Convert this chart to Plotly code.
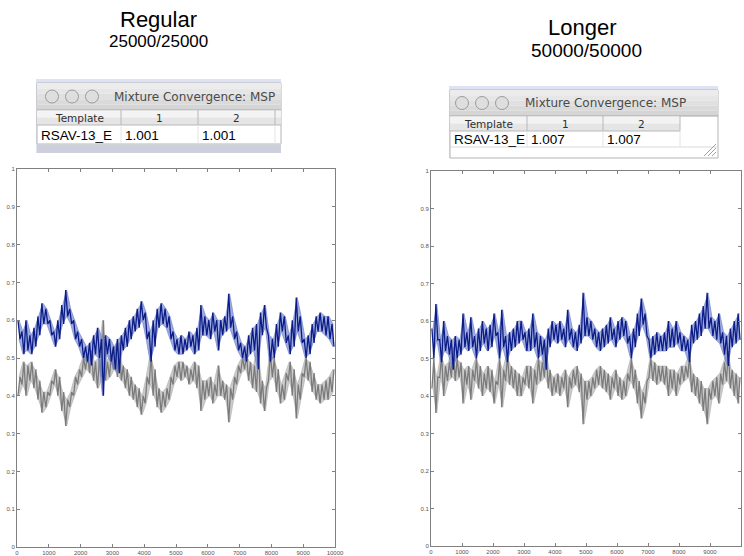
import plotly.graph_objects as go

W, H = 744, 556
N_ITER = 10000

# Mixture-weight traces: per block of 125 iterations, the two extremes of the
# trace within that block. p1 is the first component weight (blue), p2 the second (gray).
regular_p1 = [
    .60, .55, .57, .51, .60, .52, .56, .51, .58, .53, .61, .56, .645, .59, .63, .59,
    .60, .56, .57, .53, .60, .55, .64, .59, .68, .61, .63, .59, .60, .55, .57, .53,
    .55, .50, .53, .49, .54, .48, .56, .51, .58, .50, .55, .40, .56, .51, .55, .49,
    .53, .47, .55, .46, .56, .52, .58, .53, .60, .55, .61, .57, .63, .58, .65, .60,
    .62, .55, .57, .49, .60, .53, .63, .58, .645, .59, .63, .58, .61, .55, .57, .52,
    .55, .51, .56, .51, .55, .52, .57, .53, .56, .51, .58, .52, .64, .56, .61, .56,
    .60, .55, .62, .57, .60, .52, .60, .56, .61, .57, .67, .58, .61, .55, .57, .52,
    .54, .50, .53, .49, .56, .51, .58, .52, .59, .47, .62, .56, .64, .58, .56, .49,
    .55, .50, .59, .53, .62, .57, .61, .54, .56, .51, .60, .53, .66, .57, .61, .54,
    .55, .50, .56, .51, .59, .54, .61, .57, .62, .57, .61, .56, .61, .55, .59, .53,
]
regular_p2 = [
    .40, .45, .43, .49, .40, .48, .44, .49, .42, .47, .39, .44, .355, .41, .37, .41,
    .40, .44, .43, .47, .40, .45, .36, .41, .32, .39, .37, .41, .40, .45, .43, .47,
    .45, .50, .47, .51, .46, .52, .44, .49, .42, .50, .45, .60, .44, .49, .45, .51,
    .47, .53, .45, .54, .44, .48, .42, .47, .40, .45, .39, .43, .37, .42, .35, .40,
    .38, .45, .43, .51, .40, .47, .37, .42, .355, .41, .37, .42, .39, .45, .43, .48,
    .45, .49, .44, .49, .45, .48, .43, .47, .44, .49, .42, .48, .36, .44, .39, .44,
    .40, .45, .38, .43, .40, .48, .40, .44, .39, .43, .33, .42, .39, .45, .43, .48,
    .46, .50, .47, .51, .44, .49, .42, .48, .41, .53, .38, .44, .36, .42, .44, .51,
    .45, .50, .41, .47, .38, .43, .39, .46, .44, .49, .40, .47, .34, .43, .39, .46,
    .45, .50, .44, .49, .41, .46, .39, .43, .38, .43, .39, .44, .39, .45, .41, .47,
]
longer_p1 = [
    .58, .50, .645, .55, .55, .49, .60, .52, .56, .51, .55, .47, .56, .50, .55, .51,
    .62, .53, .57, .52, .61, .53, .56, .50, .58, .52, .60, .54, .58, .52, .59, .53,
    .62, .56, .57, .50, .63, .53, .56, .49, .57, .52, .58, .53, .60, .54, .60, .55,
    .57, .52, .58, .52, .62, .53, .57, .50, .56, .51, .55, .47, .58, .53, .60, .55,
    .59, .54, .60, .55, .58, .53, .63, .55, .58, .53, .57, .52, .59, .54, .675, .56,
    .61, .56, .60, .55, .58, .53, .57, .52, .58, .53, .59, .54, .61, .55, .58, .53,
    .60, .55, .61, .56, .60, .54, .56, .50, .58, .53, .62, .56, .66, .59, .62, .56,
    .55, .50, .56, .51, .57, .52, .56, .52, .57, .52, .60, .53, .58, .53, .60, .54,
    .57, .52, .56, .52, .55, .49, .59, .54, .60, .55, .62, .56, .64, .58, .675, .58,
    .61, .56, .60, .55, .62, .54, .57, .51, .56, .48, .58, .53, .60, .54, .62, .55,
]
longer_p2 = [
    .42, .50, .355, .45, .45, .51, .40, .48, .44, .49, .45, .53, .44, .50, .45, .49,
    .38, .47, .43, .48, .39, .47, .44, .50, .42, .48, .40, .46, .42, .48, .41, .47,
    .38, .44, .43, .50, .37, .47, .44, .51, .43, .48, .42, .47, .40, .46, .40, .45,
    .43, .48, .42, .48, .38, .47, .43, .50, .44, .49, .45, .53, .42, .47, .40, .45,
    .41, .46, .40, .45, .42, .47, .37, .45, .42, .47, .43, .48, .41, .46, .325, .44,
    .39, .44, .40, .45, .42, .47, .43, .48, .42, .47, .41, .46, .39, .45, .42, .47,
    .40, .45, .39, .44, .40, .46, .44, .50, .42, .47, .38, .44, .34, .41, .38, .44,
    .45, .50, .44, .49, .43, .48, .44, .48, .43, .48, .40, .47, .42, .47, .40, .46,
    .43, .48, .44, .48, .45, .51, .41, .46, .40, .45, .38, .44, .36, .42, .325, .42,
    .39, .44, .40, .45, .38, .46, .43, .49, .44, .52, .42, .47, .40, .46, .38, .45,
]

panel_titles = ["Regular", "Longer"]
panel_runs = ["25000/25000", "50000/50000"]
table_header = ["Template", "1", "2"]
template_name = "RSAV-13_E"
psrf_regular = ["1.001", "1.001"]
psrf_longer = ["1.007", "1.007"]
window_title = "Mixture Convergence: MSP"

x_ticks = list(range(0, 10001, 1000))
x_ticktext = [str(v) for v in x_ticks]
y_ticks = [round(0.1 * i, 1) for i in range(11)]
y_ticktext = ["0", "0.1", "0.2", "0.3", "0.4", "0.5", "0.6", "0.7", "0.8", "0.9", "1"]


def fx(px):
    return px / W


def fy(py):
    return 1 - py / H


def zigzag(values):
    """Sequential path through the block extremes."""
    step = N_ITER / len(values)
    return [(i + 0.5) * step for i in range(len(values))], list(values)


def envelope(values):
    """Closed outline spanning each block's range, for the soft band."""
    n_blocks = len(values) // 2
    step = N_ITER / n_blocks
    xc = [(k + 0.5) * step for k in range(n_blocks)]
    upper = [max(values[2 * k], values[2 * k + 1]) for k in range(n_blocks)]
    lower = [min(values[2 * k], values[2 * k + 1]) for k in range(n_blocks)]
    return xc + xc[::-1], upper + lower[::-1]


fig = go.Figure()

panels = [
    ("x", "y", regular_p1, regular_p2),
    ("x2", "y2", longer_p1, longer_p2),
]
for xa, ya, p1, p2 in panels:
    for vals, band, core in ((p2, "rgba(175,175,175,0.65)", "#7b7b7b"),
                             (p1, "rgba(110,128,205,0.65)", "#0b1c86")):
        ex, ey = envelope(vals)
        fig.add_trace(go.Scatter(x=ex, y=ey, xaxis=xa, yaxis=ya, mode="lines",
                                 fill="toself", fillcolor=band,
                                 line=dict(color=band, width=1), hoverinfo="skip",
                                 showlegend=False))
        zx, zy = zigzag(vals)
        fig.add_trace(go.Scatter(x=zx, y=zy, xaxis=xa, yaxis=ya, mode="lines",
                                 line=dict(color=core, width=1.3), hoverinfo="skip",
                                 showlegend=False))

tick_font = dict(family="Liberation Sans", size=6, color="#555555")
axis_common = dict(showgrid=False, zeroline=False, showline=True, linecolor="#808080",
                   linewidth=1, mirror="ticks", ticks="inside", ticklen=3,
                   tickcolor="#808080", tickfont=tick_font, automargin=False)

fig.update_layout(
    width=W, height=H, margin=dict(l=0, r=0, t=0, b=0),
    paper_bgcolor="white", plot_bgcolor="white", template="none",
    xaxis=dict(domain=[fx(17), fx(335)], range=[0, N_ITER], tickvals=x_ticks,
               ticktext=x_ticktext, anchor="y", **axis_common),
    yaxis=dict(domain=[fy(547), fy(169)], range=[0, 1], tickvals=y_ticks,
               ticktext=y_ticktext, anchor="x", **axis_common),
    xaxis2=dict(domain=[fx(431), fx(741)], range=[0, N_ITER], tickvals=x_ticks,
                ticktext=x_ticktext, anchor="y2", **axis_common),
    yaxis2=dict(domain=[fy(546), fy(171)], range=[0, 1], tickvals=y_ticks,
                ticktext=y_ticktext, anchor="x2", **axis_common),
)

shapes = []
annotations = []


def rect(x0, y0, x1, y1, fill, line=None, lw=0):
    shapes.append(dict(type="rect", xref="paper", yref="paper",
                       x0=fx(x0), x1=fx(x1), y0=fy(y1), y1=fy(y0),
                       fillcolor=fill, line=dict(color=line or fill, width=lw),
                       layer="above"))


def hline(x0, x1, y, color, lw=1):
    shapes.append(dict(type="line", xref="paper", yref="paper",
                       x0=fx(x0), x1=fx(x1), y0=fy(y), y1=fy(y),
                       line=dict(color=color, width=lw), layer="above"))


def vline(x, y0, y1, color, lw=1):
    shapes.append(dict(type="line", xref="paper", yref="paper",
                       x0=fx(x), x1=fx(x), y0=fy(y0), y1=fy(y1),
                       line=dict(color=color, width=lw), layer="above"))


def circle(cx, cy, r):
    shapes.append(dict(type="circle", xref="paper", yref="paper",
                       x0=fx(cx - r), x1=fx(cx + r), y0=fy(cy + r), y1=fy(cy - r),
                       fillcolor="#dedede", line=dict(color="#9c9c9c", width=1),
                       layer="above"))


def text(x, y, s, size, family, color="#000000", anchor="left"):
    annotations.append(dict(x=fx(x), y=fy(y), xref="paper", yref="paper", text=s,
                            showarrow=False, xanchor=anchor, yanchor="middle",
                            font=dict(size=size, family=family, color=color)))


def window(left, right, top, bar_bottom, head_bottom, row_bottom, bottom,
           cols, dots, title_x, values, head_right, grip):
    # backdrop and frame
    rect(left - 1, top - 4, right, bottom, "#dfe2f2")
    rect(left, top, right, bottom if grip else row_bottom, "#ffffff", "#b4b4b4", 1)
    # title bar, stepped shading
    bar_h = bar_bottom - top
    greys = ["#ececec", "#e6e6e6", "#e0e0e0", "#dadada", "#d5d5d5"]
    for i, g in enumerate(greys):
        rect(left, top + bar_h * i / len(greys), right,
             top + bar_h * (i + 1) / len(greys), g)
    hline(left, right, bar_bottom, "#a6a6a6")
    for cx in dots:
        circle(cx, (top + bar_bottom) / 2, 6.5)
    text(title_x, (top + bar_bottom) / 2, window_title, 12, "DejaVu Sans", "#4a4a4a")
    # header row
    mid = (bar_bottom + head_bottom) / 2
    rect(left, bar_bottom + 0.5, head_right, mid, "#f3f3f3")
    rect(left, mid, head_right, head_bottom, "#e5e5e5")
    hline(left, head_right, head_bottom, "#b8b8b8")
    for c in cols[1:]:
        vline(c, bar_bottom, head_bottom, "#b8b8b8")
    for c in cols[1:]:
        vline(c, head_bottom, row_bottom, "#e4e4e4")
    hline(left, right, row_bottom, "#dadada")
    for i, h in enumerate(table_header):
        text((cols[i] + cols[i + 1]) / 2, mid + 0.5, h, 10.5, "DejaVu Sans", "#303030",
             "center")
    rowy = (head_bottom + row_bottom) / 2 + 0.5
    text(cols[0] + 2, rowy, template_name, 13.5, "Liberation Sans")
    for i, v in enumerate(values):
        text(cols[i + 1] + 2, rowy, v, 13.5, "Liberation Sans")
    if grip:
        gx, gy = right - 2, bottom - 2
        for d in (4, 8, 12):
            shapes.append(dict(type="line", xref="paper", yref="paper",
                               x0=fx(gx - d), y0=fy(gy), x1=fx(gx), y1=fy(gy - d),
                               line=dict(color="#a0a0a0", width=1), layer="above"))
    else:
        rect(left, row_bottom + 1, right, bottom, "#cdcfdd")


window(37, 281, 83, 110, 125, 144, 153, [37, 121, 198, 275], [52, 72, 92], 112,
       psrf_regular, 281, False)
window(450, 718, 90, 116, 131, 147, 158, [450, 527, 603, 680], [462, 482, 502], 523,
       psrf_longer, 680, True)

# panel headings
text(158, 19, panel_titles[0], 22, "Liberation Sans", anchor="center")
text(158, 42, panel_runs[0], 17, "Liberation Sans", anchor="center")
text(582, 27, panel_titles[1], 22, "Liberation Sans", anchor="center")
text(586, 51, panel_runs[1], 19, "Liberation Sans", anchor="center")

fig.update_layout(shapes=shapes, annotations=annotations)
fig.write_html("out.html")
